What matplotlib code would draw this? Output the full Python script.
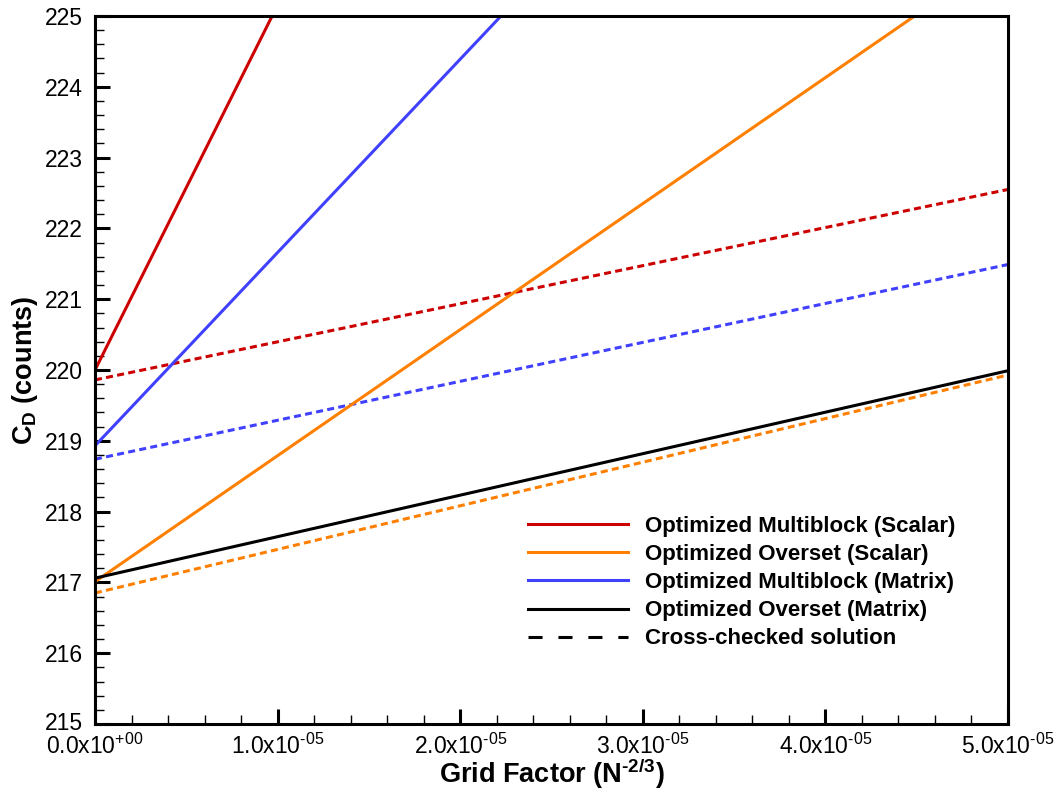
import matplotlib
matplotlib.use("Agg")
import matplotlib.pyplot as plt
from matplotlib.lines import Line2D
from matplotlib.ticker import MultipleLocator, FuncFormatter
from matplotlib.transforms import ScaledTranslation

plt.rcParams['font.family'] = ['Liberation Sans', 'DejaVu Sans']
plt.rcParams['mathtext.fontset'] = 'custom'
plt.rcParams['mathtext.rm'] = 'Liberation Sans'
plt.rcParams['mathtext.bf'] = 'Liberation Sans:bold'
plt.rcParams['mathtext.it'] = 'Liberation Sans:italic'

# Data: line endpoints (grid factor, C_D counts)
grid_factor = [0.0, 5.0e-5]
mb_scalar = [220.00, 245.77]        # Optimized Multiblock (Scalar)
ov_scalar = [217.01, 225.91]        # Optimized Overset (Scalar)
mb_matrix = [218.93, 232.58]        # Optimized Multiblock (Matrix)
ov_matrix = [217.06, 219.99]        # Optimized Overset (Matrix)
mb_scalar_cc = [219.86, 222.55]     # cross-checked
ov_scalar_cc = [216.85, 219.93]
mb_matrix_cc = [218.74, 221.49]

labels = ["Optimized Multiblock (Scalar)", "Optimized Overset (Scalar)",
          "Optimized Multiblock (Matrix)", "Optimized Overset (Matrix)",
          "Cross-checked solution"]

RED = '#cc0000'
ORANGE = '#ff8000'
BLUE = '#4040ff'
BLACK = '#000000'

fig = plt.figure(figsize=(10.58, 7.92), dpi=100)
ax = fig.add_axes([95/1058, 1-724/792, (1008-95)/1058, (724-16)/792])

lw = 2.2
dash = (2.3, 1.4)
ax.plot(grid_factor, mb_scalar_cc, color=RED, lw=lw, dashes=dash)
ax.plot(grid_factor, mb_matrix_cc, color=BLUE, lw=lw, dashes=dash)
ax.plot(grid_factor, ov_scalar_cc, color=ORANGE, lw=lw, dashes=dash)
ax.plot(grid_factor, mb_scalar, color=RED, lw=lw)
ax.plot(grid_factor, mb_matrix, color=BLUE, lw=lw)
ax.plot(grid_factor, ov_scalar, color=ORANGE, lw=lw)
ax.plot(grid_factor, ov_matrix, color=BLACK, lw=lw)

ax.set_xlim(0, 5e-5)
ax.set_ylim(215, 225)

ax.xaxis.set_major_locator(MultipleLocator(1e-5))
ax.xaxis.set_minor_locator(MultipleLocator(0.2e-5))
ax.yaxis.set_major_locator(MultipleLocator(1))
ax.yaxis.set_minor_locator(MultipleLocator(0.2))

HY = '\u2010'


def xfmt(v, pos):
    if abs(v) < 1e-12:
        return r'$\mathregular{0.0x10^{+00}}$'
    m = v / 1e-5
    return r'$\mathregular{%.1fx10^{%s05}}$' % (m, HY)


ax.xaxis.set_major_formatter(FuncFormatter(xfmt))
ax.yaxis.set_major_formatter(FuncFormatter(lambda v, p: '%d' % round(v)))

ax.tick_params(axis='both', which='major', direction='in', length=11, width=2.2,
               labelsize=16.5, top=False, right=False)
ax.tick_params(axis='both', which='minor', direction='in', length=6.5, width=1.0,
               top=False, right=False)
ax.tick_params(axis='x', which='major', pad=7)
ax.tick_params(axis='y', which='major', pad=9)

for s in ax.spines.values():
    s.set_linewidth(2.2)

ax.set_xlabel('Grid Factor (N$^{\\mathbf{%s2/3}}$)' % HY, fontsize=19.5, fontweight='bold', labelpad=-2)
ax.set_ylabel(r'C$_{\mathbf{D}}$ (counts)', fontsize=19.5, fontweight='bold', labelpad=3)

handles = [
    Line2D([], [], color=RED, lw=2.2),
    Line2D([], [], color=ORANGE, lw=2.2),
    Line2D([], [], color=BLUE, lw=2.2),
    Line2D([], [], color=BLACK, lw=2.2),
    Line2D([], [], color=BLACK, lw=2.2, dashes=(4.6, 5.2)),
]
leg = ax.legend(handles, labels, loc='upper left',
                bbox_to_anchor=((528-95)/913, (724-516)/708),
                frameon=False, borderpad=0, borderaxespad=0,
                handlelength=4.5, handletextpad=0.75, labelspacing=0.32,
                prop={'family': 'Liberation Sans', 'weight': 'bold', 'size': 16})

# nudge the lowest y tick label up slightly so it clears the x tick labels
fig.canvas.draw()
for t in ax.yaxis.get_major_ticks():
    if abs(t.get_loc() - 215) < 1e-9:
        lab = t.label1
        lab.set_transform(lab.get_transform() + ScaledTranslation(0, 3/100, fig.dpi_scale_trans))

fig.savefig('out.png', dpi=100)
